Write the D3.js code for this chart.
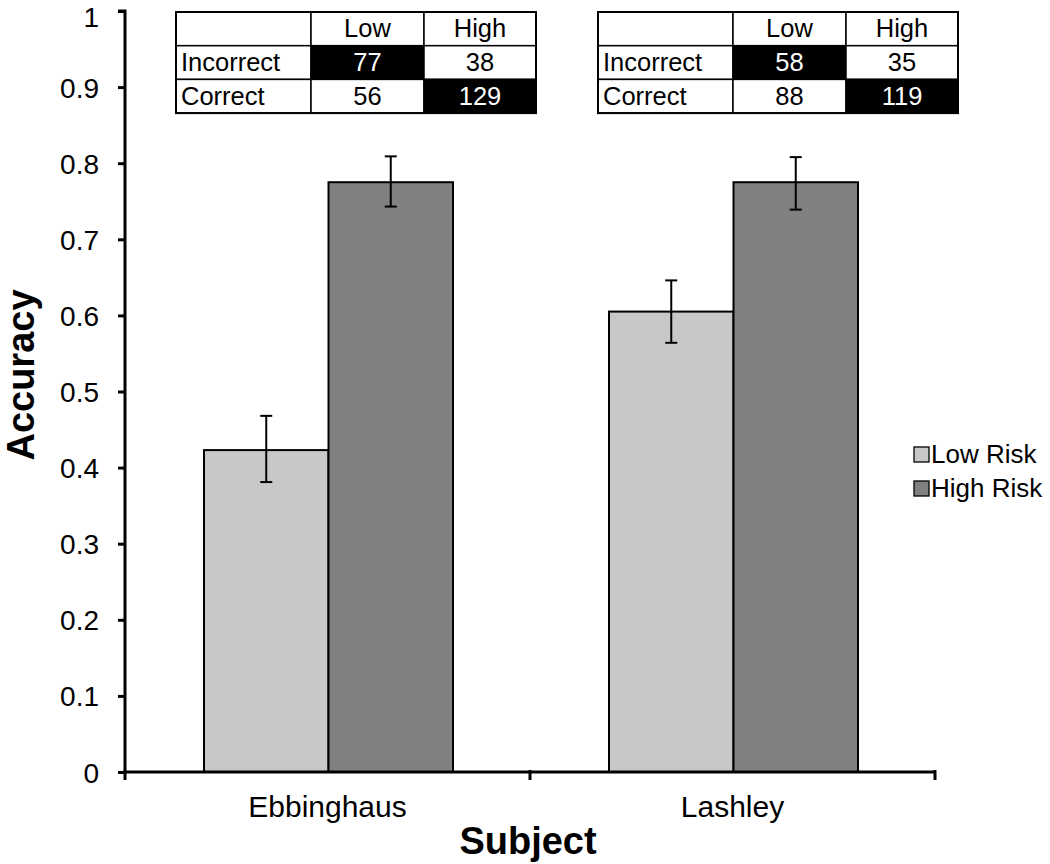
<!DOCTYPE html>
<html><head><meta charset="utf-8">
<script src="https://cdn.jsdelivr.net/npm/d3@7"></script>
<style>body{margin:0;background:#fff}svg{display:block;font-family:"Liberation Sans",Arial,sans-serif}</style>
</head><body>
<svg id="c" width="1050" height="864"></svg>
<script>
const subjects = ["Ebbinghaus", "Lashley"];
const seriesNames = ["Low Risk", "High Risk"];
const seriesColors = ["#c8c8c8", "#808080"];
const lowRisk = [0.423, 0.605];
const highRisk = [0.775, 0.775];
const lowErrLo = [0.381, 0.564];
const lowErrHi = [0.468, 0.646];
const highErrLo = [0.743, 0.739];
const highErrHi = [0.809, 0.808];
const yTicks = [0, 0.1, 0.2, 0.3, 0.4, 0.5, 0.6, 0.7, 0.8, 0.9, 1];
const tableCols = ["", "Low", "High"];
const tableRows = ["Incorrect", "Correct"];
const tableEbbinghaus = [[77, 38], [56, 129]];
const tableLashley = [[58, 35], [88, 119]];

const FONT = "Liberation Sans, Arial, sans-serif";
const svg = d3.select("#c");
const x0 = 125, x1 = 935, yTop = 11, yBot = 772;
const y = d3.scaleLinear().domain([0, 1]).range([yBot, yTop]);
const xb = d3.scaleBand().domain(subjects).range([x0, x1]).paddingInner(0).paddingOuter(0);
const groupFrac = 249 / 405;
const xs = d3.scaleBand().domain(seriesNames).range([0, xb.bandwidth() * groupFrac]);
const groupOffset = (xb.bandwidth() - xb.bandwidth() * groupFrac) / 2 + 1;

const series = [
  {name: seriesNames[0], vals: lowRisk, lo: lowErrLo, hi: lowErrHi, color: seriesColors[0]},
  {name: seriesNames[1], vals: highRisk, lo: highErrLo, hi: highErrHi, color: seriesColors[1]}
];

const g = svg.append("g");
series.forEach(s => {
  subjects.forEach((sub, i) => {
    const bx = xb(sub) + groupOffset + xs(s.name);
    g.append("rect").attr("x", bx).attr("y", y(s.vals[i]))
      .attr("width", xs.bandwidth()).attr("height", y(0) - y(s.vals[i]))
      .attr("fill", s.color).attr("stroke", "#000").attr("stroke-width", 2);
  });
});
series.forEach(s => {
  subjects.forEach((sub, i) => {
    const cx = xb(sub) + groupOffset + xs(s.name) + xs.bandwidth() / 2;
    g.append("line").attr("x1", cx).attr("x2", cx).attr("y1", y(s.lo[i])).attr("y2", y(s.hi[i]))
      .attr("stroke", "#000").attr("stroke-width", 2);
    [s.lo[i], s.hi[i]].forEach(v => {
      g.append("line").attr("x1", cx - 6).attr("x2", cx + 6).attr("y1", y(v)).attr("y2", y(v))
        .attr("stroke", "#000").attr("stroke-width", 2);
    });
  });
});

// Y axis
const yAxis = d3.axisLeft(y).tickValues(yTicks).tickSize(7).tickPadding(19)
  .tickFormat(d => d === 0 ? "0" : d === 1 ? "1" : d3.format(".1f")(d));
const ya = svg.append("g").attr("transform", `translate(${x0},0)`).call(yAxis);
ya.select(".domain").attr("stroke-width", 3).attr("d", `M-7,${yTop}H0V${yBot}`);
ya.selectAll(".tick line").attr("stroke-width", 3);
ya.selectAll(".tick text").attr("font-size", 28).attr("font-family", FONT).attr("fill", "#000")
  .attr("dy", d => d === 1 ? "0.56em" : "0.36em");

// X axis
const xAxis = d3.axisBottom(xb).tickSize(0).tickPadding(24);
const xa = svg.append("g").attr("transform", `translate(0,${yBot})`).call(xAxis);
xa.select(".domain").attr("stroke-width", 3).attr("d", `M${x0},0H${x1}`);
xa.selectAll(".tick text").attr("font-size", 30).attr("font-family", FONT).attr("fill", "#000").attr("dy", "0.71em");
const xTickPos = [x0, x0 + xb.bandwidth(), x1];
xa.selectAll(".xt").data(xTickPos).enter().append("line").attr("class", "xt")
  .attr("x1", d => d).attr("x2", d => d).attr("y1", -2).attr("y2", 8)
  .attr("stroke", "#000").attr("stroke-width", 3);

// Axis titles
svg.append("text").attr("transform", "translate(34,375) rotate(-90)").attr("text-anchor", "middle")
  .attr("font-size", 38).attr("font-weight", "bold").text("Accuracy");
svg.append("text").attr("x", 528).attr("y", 854).attr("text-anchor", "middle")
  .attr("font-size", 38).attr("font-weight", "bold").text("Subject");

// Legend
series.forEach((s, i) => {
  const ly = 447 + i * 34;
  svg.append("rect").attr("x", 914).attr("y", ly).attr("width", 15).attr("height", 15)
    .attr("fill", s.color).attr("stroke", "#000").attr("stroke-width", 1.3);
  svg.append("text").attr("x", 931).attr("y", ly + 16).attr("font-size", 26).text(s.name);
});

// Tables
function drawTable(tx, data) {
  const colW = [135, 113, 112];
  const rowH = 33.7;
  const tg = svg.append("g").attr("transform", `translate(${tx},12)`);
  const colX = [0, colW[0], colW[0] + colW[1]];
  const totalW = colW[0] + colW[1] + colW[2];
  const fs = 25.5, base = rowH - 8.5;
  tableCols.forEach((c, j) => {
    tg.append("rect").attr("x", colX[j]).attr("y", 0).attr("width", colW[j]).attr("height", rowH)
      .attr("fill", "#fff").attr("stroke", "#000").attr("stroke-width", 1.5);
    if (c) tg.append("text").attr("x", colX[j] + colW[j] / 2).attr("y", base).attr("text-anchor", "middle")
      .attr("font-size", fs).text(c);
  });
  tableRows.forEach((r, i) => {
    const ry = rowH * (i + 1);
    tg.append("rect").attr("x", 0).attr("y", ry).attr("width", colW[0]).attr("height", rowH)
      .attr("fill", "#fff").attr("stroke", "#000").attr("stroke-width", 1.5);
    tg.append("text").attr("x", 5).attr("y", ry + base).attr("font-size", fs).text(r);
    data[i].forEach((v, j) => {
      const dark = (i === j);
      tg.append("rect").attr("x", colX[j + 1]).attr("y", ry).attr("width", colW[j + 1]).attr("height", rowH)
        .attr("fill", dark ? "#000" : "#fff").attr("stroke", "#000").attr("stroke-width", 1.5);
      tg.append("text").attr("x", colX[j + 1] + colW[j + 1] / 2).attr("y", ry + base)
        .attr("text-anchor", "middle").attr("font-size", fs).attr("fill", dark ? "#fff" : "#000").text(v);
    });
  });
  tg.append("rect").attr("x", 0).attr("y", 0).attr("width", totalW).attr("height", rowH * 3)
    .attr("fill", "none").attr("stroke", "#000").attr("stroke-width", 2);
}
drawTable(176, tableEbbinghaus);
drawTable(598, tableLashley);
</script>
</body></html>
